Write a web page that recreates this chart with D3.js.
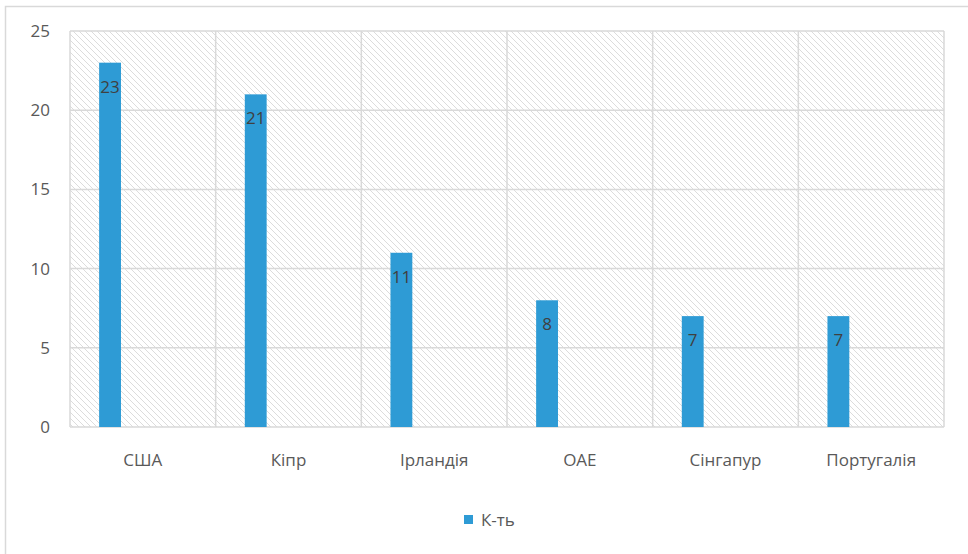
<!DOCTYPE html>
<html><head><meta charset="utf-8">
<script src="https://cdn.jsdelivr.net/npm/d3@7"></script>
<style>body{margin:0;background:#fff}svg{display:block}text{font-family:"Open Sans","Noto Sans",sans-serif}</style>
</head><body><svg id="c" width="968" height="554"></svg>
<script>
const categories = ["США","Кіпр","Ірландія","ОАЕ","Сінгапур","Португалія"];
const values = [23,21,11,8,7,7];
const yTicks = [0,5,10,15,20,25];
const seriesName = "К-ть";

const svg = d3.select("#c");
const m = {l:70, r:944, t:31, b:427};
const FS = 17;

// outer border (extends beyond the frame)
svg.append("rect").attr("x",5.5).attr("y",6.5).attr("width",1000).attr("height",600)
  .attr("fill","#fff").attr("stroke","#d9d9d9").attr("stroke-width",1.5);

const defs = svg.append("defs");
const pat = defs.append("pattern").attr("id","hatch").attr("patternUnits","userSpaceOnUse")
  .attr("width",6).attr("height",6);
pat.append("rect").attr("width",6).attr("height",6).attr("fill","#fff");
pat.append("path").attr("d","M0,0 L6,6 M-1,5 L1,7 M5,-1 L7,1")
  .attr("stroke","#dcdcdc").attr("stroke-width",1);

const x = d3.scaleBand().domain(categories).range([m.l,m.r]).padding(0);
const y = d3.scaleLinear().domain([0,25]).range([m.b,m.t]);

svg.append("rect").attr("x",m.l).attr("y",m.t).attr("width",m.r-m.l).attr("height",m.b-m.t)
  .attr("fill","url(#hatch)");

// grid
const g = svg.append("g");
g.selectAll(".hg").data(yTicks).join("line")
  .attr("x1",m.l).attr("x2",m.r).attr("y1",d=>y(d)).attr("y2",d=>y(d))
  .attr("stroke","#d9d9d9").attr("stroke-width",1.5);
const bounds = categories.map(c=>x(c)).concat([m.r]);
g.selectAll(".vg").data(bounds).join("line")
  .attr("x1",d=>d).attr("x2",d=>d).attr("y1",m.t).attr("y2",m.b)
  .attr("stroke","#d9d9d9").attr("stroke-width",1.5);

// y axis labels
const yAxis = d3.axisLeft(y).tickValues(yTicks).tickSize(0).tickPadding(0);
const ya = svg.append("g").attr("transform",`translate(50,0)`).call(yAxis);
ya.select(".domain").remove();
ya.selectAll("text").attr("font-size",FS).attr("fill","#595959")
  .style("font-family",'"Open Sans","Noto Sans",sans-serif');

// x axis labels
const xAxis = d3.axisBottom(x).tickSize(0).tickPadding(0);
const xa = svg.append("g").attr("transform",`translate(0,${m.b+27})`).call(xAxis);
xa.select(".domain").remove();
xa.selectAll("text").attr("font-size",FS).attr("fill","#595959")
  .style("font-family",'"Open Sans","Noto Sans",sans-serif');

// bars
const bw = x.bandwidth()*0.15, off = x.bandwidth()*0.2;
svg.selectAll(".bar").data(values).join("rect")
  .attr("x",(d,i)=>x(categories[i])+off).attr("width",bw)
  .attr("y",d=>y(d)).attr("height",d=>y(0)-y(d)).attr("fill","#2E9BD5");
svg.selectAll(".lbl").data(values).join("text")
  .attr("x",(d,i)=>x(categories[i])+off+bw/2).attr("y",d=>y(d)+30)
  .attr("text-anchor","middle").attr("font-size",FS).attr("fill","#404040").text(d=>d);

// legend
svg.append("rect").attr("x",464).attr("y",515).attr("width",9).attr("height",9).attr("fill","#2E9BD5");
svg.append("text").attr("x",481).attr("y",526).attr("font-size",FS).attr("fill","#595959").text(seriesName);
</script></body></html>
